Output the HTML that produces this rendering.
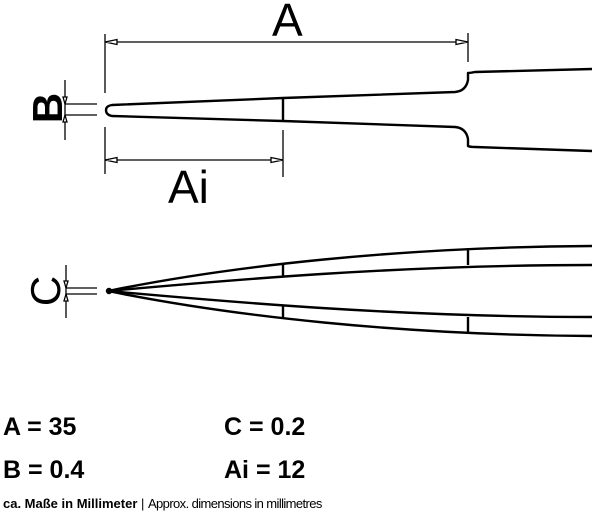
<!DOCTYPE html>
<html><head><meta charset="utf-8"><style>
html,body{margin:0;padding:0;background:#fff;}
svg{display:block;}
</style></head><body>
<svg width="600" height="514" viewBox="0 0 600 514" xmlns="http://www.w3.org/2000/svg">
<g fill="none" stroke="#000" stroke-width="1.3">
<line x1="105" y1="34" x2="105" y2="93"/>
<line x1="468" y1="33" x2="468" y2="62"/>
<line x1="105" y1="42" x2="468" y2="42"/>
<path d="M105 42 l12 -2.5 v5 z M468 42 l-12 -2.5 v5 z" fill="#fff"/>
<line x1="105" y1="127" x2="105" y2="174"/>
<line x1="283" y1="130" x2="283" y2="177"/>
<line x1="105" y1="160" x2="283" y2="160"/>
<path d="M105 160 l12 -2.5 v5 z M283 160 l-12 -2.5 v5 z" fill="#fff"/>
<line x1="65" y1="80" x2="65" y2="140"/>
<line x1="65" y1="104" x2="97" y2="104"/>
<line x1="65" y1="115" x2="97" y2="115"/>
<path d="M65 104 l-2 -7 h4 z M65 115 l-2 7 h4 z" fill="#fff"/>
<line x1="66" y1="265" x2="66" y2="318"/>
<line x1="66" y1="288" x2="97" y2="288"/>
<line x1="66" y1="294" x2="97" y2="294"/>
<path d="M66 288 l-2 -7 h4 z M66 294 l-2 7 h4 z" fill="#fff"/>
</g>
<g fill="none" stroke="#000" stroke-width="2.4" stroke-linejoin="round">
<path d="M592 69 L475 72 Q470 73 468 73 L468 80 Q466 91 455 92 L283 98 L112 105 Q106 106 106 110 Q106 115 112 116 L283 121 L455 127 Q466 128 468 139 L468 146 Q470 147 475 147 L592 151"/>
<line x1="283" y1="98" x2="283" y2="121"/>
<path d="M108 291 C 230 266, 400 247, 592 246"/>
<path d="M108 291 C 230 280, 400 265, 592 265"/>
<path d="M108 291 C 230 302, 400 317, 592 317"/>
<path d="M108 291 C 230 316, 400 335, 592 336"/>
<circle cx="109" cy="291" r="2" fill="#000"/>
<line x1="283" y1="264" x2="283" y2="277"/>
<line x1="468" y1="248" x2="468" y2="265"/>
<line x1="283" y1="306" x2="283" y2="318"/>
<line x1="468" y1="317" x2="468" y2="334"/>
</g>
<g font-family="Liberation Sans, sans-serif" fill="#000">
<text x="272" y="36" font-size="46">A</text>
<text x="168" y="203" font-size="46">Ai</text>
<text transform="translate(62,108) rotate(-90)" text-anchor="middle" font-size="42" font-weight="bold">B</text>
<text transform="translate(60,291) rotate(-90)" text-anchor="middle" font-size="42">C</text>
<g font-size="25" font-weight="bold">
<text x="3" y="435">A = 35</text>
<text x="224" y="435">C = 0.2</text>
<text x="3" y="478">B = 0.4</text>
<text x="224" y="478">Ai = 12</text>
</g>
<text x="3" y="508" font-size="13"><tspan font-weight="bold">ca. Maße in Millimeter</tspan> | <tspan letter-spacing="-0.6">Approx. dimensions in millimetres</tspan></text>
</g>
</svg>
</body></html>
